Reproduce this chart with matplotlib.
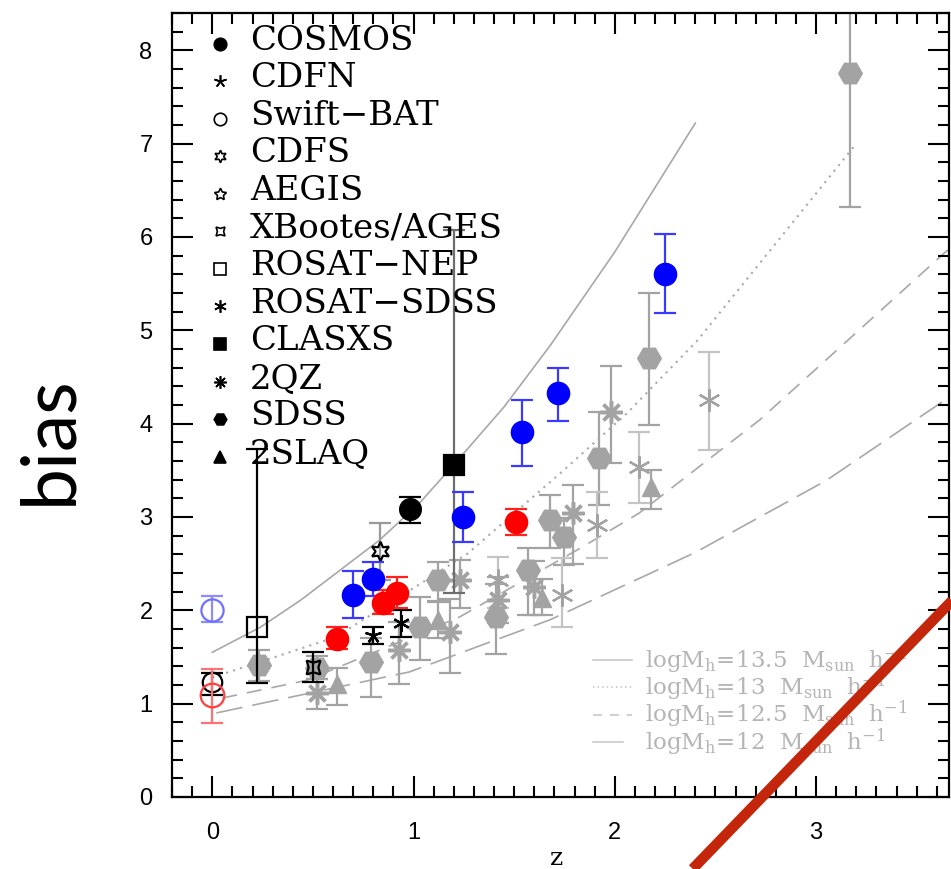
import numpy as np
import matplotlib
matplotlib.use("Agg")
import matplotlib.pyplot as plt

# ---- data ----
# blue filled points
blue_z = [0.70, 0.80, 1.245, 1.54, 1.72, 2.25]
blue_b = [2.16, 2.33, 3.00, 3.91, 4.33, 5.60]
blue_lo = [0.24, 0.18, 0.27, 0.36, 0.30, 0.42]
blue_hi = [0.26, 0.19, 0.27, 0.34, 0.27, 0.43]
# red filled points
red_z = [0.62, 0.85, 0.92, 1.51]
red_b = [1.69, 2.08, 2.18, 2.95]
red_lo = [0.11, 0.12, 0.16, 0.14]
red_hi = [0.13, 0.14, 0.18, 0.14]
# open circles at z=0
open_blue = (0.0, 2.00, 0.13, 0.15)
open_red = (0.0, 1.09, 0.30, 0.28)

# black survey points: name -> z, b, lo, hi
black_pts = {
    "COSMOS": (0.98, 3.08, 0.15, 0.13),
    "CLASXS": (1.20, 3.56, 1.37, 2.51),
    "ROSAT-NEP": (0.22, 1.82, 0.60, 1.91),
    "XBootes/AGES": (0.50, 1.39, 0.16, 0.16),
    "CDFN": (0.80, 1.73, 0.09, 0.09),
    "ROSAT-SDSS": (0.94, 1.86, 0.15, 0.14),
    "CDFS": (0.835, 2.63, 0.31, 0.30),
    "Swift-BAT": (0.0, 1.23, 0.14, 0.10),
}

# gray points
sdss_z = [0.23, 0.52, 0.79, 1.03, 1.12, 1.41, 1.57, 1.68, 1.75, 1.92, 2.17, 3.17]
sdss_b = [1.41, 1.38, 1.45, 1.82, 2.32, 1.93, 2.43, 2.97, 2.79, 3.63, 4.70, 7.76]
sdss_lo = [0.17, 0.12, 0.38, 0.35, 0.23, 0.40, 0.48, 0.30, 0.31, 0.50, 0.72, 1.44]
sdss_hi = [0.16, 0.13, 0.25, 0.32, 0.20, 0.35, 0.24, 0.26, 0.20, 0.49, 0.70, 0.80]

qz_z = [0.52, 0.93, 1.18, 1.23, 1.42, 1.60, 1.79, 1.98]
qz_b = [1.11, 1.57, 1.77, 2.32, 2.11, 2.25, 3.04, 4.12]
qz_lo = [0.17, 0.36, 0.44, 0.30, 0.25, 0.30, 0.54, 0.54]
qz_hi = [0.15, 0.30, 0.35, 0.22, 0.25, 0.28, 0.30, 0.50]

ast_z = [1.42, 1.74, 1.91, 2.12, 2.47]
ast_b = [2.32, 2.16, 2.91, 3.53, 4.25]
ast_lo = [0.30, 0.34, 0.35, 0.38, 0.53]
ast_hi = [0.25, 0.40, 0.36, 0.38, 0.52]

slaq_z = [0.62, 1.12, 1.64, 2.18]
slaq_b = [1.21, 1.90, 2.13, 3.32]
slaq_lo = [0.22, 0.20, 0.18, 0.23]
slaq_hi = [0.17, 0.20, 0.20, 0.18]

# halo-mass model curves
m135_z = [0.0, 0.24, 0.44, 0.83, 1.03, 1.2, 1.45, 1.68, 2.0, 2.4]
m135_b = [1.55, 1.82, 2.11, 2.75, 3.15, 3.56, 4.18, 4.84, 5.84, 7.22]
m13_z = [0.0, 0.61, 0.98, 1.27, 1.73, 2.06, 2.41, 3.2]
m13_b = [1.28, 1.71, 2.21, 2.61, 3.47, 4.11, 4.89, 7.0]
m125_z = [0.05, 0.47, 1.23, 1.84, 2.12, 2.72, 3.70]
m125_b = [1.06, 1.25, 1.93, 2.68, 3.04, 4.04, 5.95]
m12_z = [0.02, 0.98, 1.68, 2.4, 3.05, 3.70]
m12_b = [0.90, 1.34, 1.90, 2.62, 3.39, 4.34]

model_labels = [r"$\mathrm{logM_h\!=\!13.5\ \ M_{sun}\ \ h^{-1}}$",
                r"$\mathrm{logM_h\!=\!13\ \ M_{sun}\ \ h^{-1}}$",
                r"$\mathrm{logM_h\!=\!12.5\ \ M_{sun}\ \ h^{-1}}$",
                r"$\mathrm{logM_h\!=\!12\ \ M_{sun}\ \ h^{-1}}$"]

legend_names = ["COSMOS", "CDFN", "Swift-BAT", "CDFS", "AEGIS", "XBootes/AGES",
                "ROSAT-NEP", "ROSAT-SDSS", "CLASXS", "2QZ", "SDSS", "2SLAQ"]

# red overlay stroke (data coords, runs off the axes)
red_line_z = [2.387, 3.75]
red_line_b = [-0.77, 2.27]

# ---- styles ----
plt.rcParams["mathtext.fontset"] = "dejavuserif"
GRAY = "#a3a3a3"
LGRAY = "#c4c4c4"
CURVE = "#a8a8a8"

markers = {
    "COSMOS": ("o", True), "CDFN": ((5, 2, 0), True), "Swift-BAT": ("o", False),
    "CDFS": ((6, 1, 0), False), "AEGIS": ((5, 1, 0), False),
    "XBootes/AGES": ((4, 1, 45), False), "ROSAT-NEP": ("s", False),
    "ROSAT-SDSS": ((6, 2, 0), True), "CLASXS": ("s", True), "2QZ": ((8, 2, 0), True),
    "SDSS": ("H", True), "2SLAQ": ("^", True),
}

fig = plt.figure(figsize=(9.51, 8.69), dpi=100)
ax = fig.add_axes([0.1809, 0.0829, 0.8169, 0.9022])

ebkw = dict(fmt="none", elinewidth=1.6, capsize=8, capthick=1.6)

# model curves
ax.plot(m135_z, m135_b, color=CURVE, lw=1.2, zorder=1)
ax.plot(m13_z, m13_b, color=CURVE, lw=1.5, ls=(0, (1, 2.5)), zorder=1)
ax.plot(m125_z, m125_b, color=CURVE, lw=1.2, dashes=(9, 6), zorder=1)
ax.plot(m12_z, m12_b, color=CURVE, lw=1.2, dashes=(16, 6), zorder=1)

# gray points
ax.errorbar(sdss_z, sdss_b, yerr=[sdss_lo, sdss_hi], ecolor=GRAY, zorder=2, **ebkw)
ax.plot(sdss_z, sdss_b, "H", color=GRAY, ms=17, mec=GRAY, ls="none", zorder=3)
ax.errorbar(qz_z, qz_b, yerr=[qz_lo, qz_hi], ecolor=GRAY, zorder=2, **ebkw)
ax.plot(qz_z, qz_b, marker=(8, 2, 0), color=GRAY, ms=16, mew=2.5, ls="none", zorder=3)
ax.errorbar(ast_z, ast_b, yerr=[ast_lo, ast_hi], ecolor=LGRAY, zorder=2, **ebkw)
ax.plot(ast_z, ast_b, marker=(6, 2, 0), color=GRAY, ms=16, mew=1.6, ls="none", zorder=3)
ax.errorbar(slaq_z, slaq_b, yerr=[slaq_lo, slaq_hi], ecolor=GRAY, zorder=2, **ebkw)
ax.plot(slaq_z, slaq_b, "^", color=GRAY, ms=13, ls="none", zorder=3)

# black points
for name, (z, b, lo, hi) in black_pts.items():
    mk, filled = markers[name]
    ec = "#6e6e6e" if name == "CLASXS" else ("#9a9a9a" if name == "CDFS" else "black")
    ax.errorbar([z], [b], yerr=[[lo], [hi]], ecolor=ec, zorder=4, **ebkw)
    size = 15 if name in ("COSMOS", "CLASXS") else 14
    if name in ("CDFN", "ROSAT-SDSS"):
        size = 12
    ax.plot([z], [b], marker=mk, ms=size, color="black",
            mfc="black" if filled else "none", mew=1.6, ls="none", zorder=5)

# blue and red
ax.errorbar(blue_z, blue_b, yerr=[blue_lo, blue_hi], ecolor="#3a3aff", zorder=6, **ebkw)
ax.plot(blue_z, blue_b, "o", color="#0000ff", ms=16, ls="none", zorder=7)
ax.errorbar(red_z, red_b, yerr=[red_lo, red_hi], ecolor="#ff2020", zorder=6, **ebkw)
ax.plot(red_z, red_b, "o", color="#ff0000", ms=16, ls="none", zorder=7)
z, b, lo, hi = open_blue
ax.errorbar([z], [b], yerr=[[lo], [hi]], ecolor="#8c8cff", zorder=6, **ebkw)
ax.plot([z], [b], "o", ms=16, mfc="none", mec="#7070ff", mew=1.6, zorder=7)
z, b, lo, hi = open_red
ax.errorbar([z], [b], yerr=[[lo], [hi]], ecolor="#ff7070", zorder=6, **ebkw)
ax.plot([z], [b], "o", ms=17, mfc="none", mec="#ff4040", mew=1.6, zorder=7)

# survey legend, top left
for i, name in enumerate(legend_names):
    y = 0.953 - i * 0.0479
    mk, filled = markers[name]
    ax.plot([0.062], [y + 0.008], transform=ax.transAxes, marker=mk, ms=9,
            color="black", mfc="black" if filled else "none", mew=1.2, zorder=8)
    ax.text(0.100, y, name.replace("-", "\u2212"), transform=ax.transAxes,
            fontsize=24.5, family="DejaVu Serif", va="baseline", ha="left", zorder=8)

# model legend, bottom right
styles = [dict(ls="-"), dict(ls=(0, (1, 2))), dict(dashes=(6, 5)), dict(ls="-")]
for i, (lab, st) in enumerate(zip(model_labels, styles)):
    y = 0.175 - i * 0.035
    x1 = 0.592 if i < 3 else 0.580
    ax.plot([0.542, x1], [y, y], transform=ax.transAxes, color=LGRAY, lw=1.1, **st)
    ax.text(0.609, y, lab, transform=ax.transAxes, fontsize=16.5, color="#b5b5b5",
            va="center", ha="left")

ax.set_xlim(-0.2, 3.66)
ax.set_ylim(0, 8.4)
ax.set_xticks([0, 1, 2, 3])
ax.set_yticks(range(9))
ax.set_xticks(np.arange(-0.2, 3.7, 0.1), minor=True)
ax.set_yticks(np.arange(0, 8.41, 0.2), minor=True)
ax.tick_params(which="both", direction="in", top=True, right=True, width=1.5,
               labelsize=17, labelfontfamily="Liberation Sans")
ax.tick_params(which="major", length=15)
ax.tick_params(which="minor", length=8)
ax.tick_params(axis="x", pad=18)
ax.tick_params(axis="y", pad=14)
for s in ax.spines.values():
    s.set_linewidth(1.6)

fig.text(50 / 951, 0.494, "bias", rotation=90, ha="center", va="center",
         fontsize=54, family="Lato", fontweight="normal")
fig.text(557 / 951, 0.012, "z", ha="center", va="center", fontsize=18,
         family="DejaVu Serif")

# red stroke over everything
ax.plot(red_line_z, red_line_b, color="#c4260c", lw=7.5, solid_capstyle="butt",
        clip_on=False, zorder=20)

fig.savefig("out.png", dpi=100)
